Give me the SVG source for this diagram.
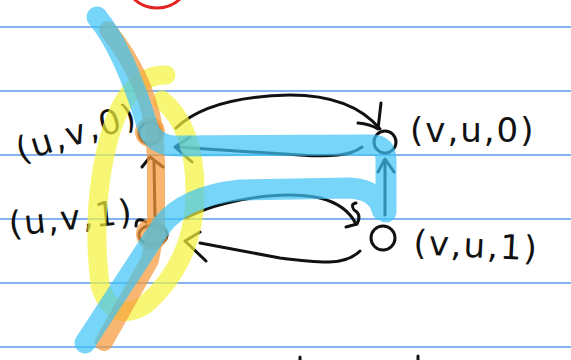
<svg xmlns="http://www.w3.org/2000/svg" width="571" height="360" viewBox="0 0 571 360">
<style>
.rule{stroke:#5a9be8;stroke-width:1.6}
.ink{fill:none;stroke:#111;stroke-width:3;stroke-linecap:round;stroke-linejoin:round}
.node{fill:none;stroke:#111;stroke-width:3}
.lbl{font-family:"DejaVu Sans",sans-serif;font-size:34px;fill:#111;letter-spacing:2px}
.hl{fill:none;stroke-linecap:round;stroke-linejoin:round}
</style>
<rect width="571" height="360" fill="#fff"/>
<g id="rules">
<line class="rule" x1="0" y1="27" x2="571" y2="27"/>
<line class="rule" x1="0" y1="91" x2="571" y2="91"/>
<line class="rule" x1="0" y1="155" x2="571" y2="155"/>
<line class="rule" x1="0" y1="219" x2="571" y2="219"/>
<line class="rule" x1="0" y1="283" x2="571" y2="283"/>
<line class="rule" x1="0" y1="347" x2="571" y2="347"/>
</g>
<circle cx="157" cy="-26" r="34" fill="none" stroke="#e52222" stroke-width="3"/>
<g id="connectors">
<path class="ink" d="M176,128 C200,105 240,96 290,95 C330,95 360,105 380,129"/>
<path class="ink" d="M358,123 Q370,124 378,129 L381,103"/>
<path class="ink" d="M362,147 C350,156 330,157 300,155 L176,147"/>
<path class="ink" d="M190,137 L175,147 L192,162"/>
<path class="ink" d="M385,215 L385,160"/>
<path class="ink" d="M378,172 L385,159 L394,172"/>
<path class="ink" d="M186,218 C220,200 280,190 320,198 C340,203 350,212 356,224"/>
<path class="ink" d="M346,227 L357,224 Q362,214 354,210 Q350,204 356,203"/>
<path class="ink" d="M360,251 C345,266 320,263 280,258 L200,243"/>
<path class="ink" d="M200,232 L185,241 L206,261"/>
<path class="ink" d="M155,216 L154,162"/>
<path class="ink" d="M142,167 L150,157 L163,167"/>
</g>
<g id="n_uv0"><circle class="node" cx="150" cy="133" r="11"/></g>
<g id="n_uv1"><ellipse class="node" cx="153" cy="235" rx="14" ry="10"/><path class="ink" d="M136,226 Q136,216 146,222"/></g>
<g id="n_vu0"><circle class="node" cx="385" cy="142" r="11"/></g>
<g id="n_vu1"><circle class="node" cx="383" cy="238" r="12"/></g>
<g id="labels">
<text class="lbl" transform="translate(20,162) rotate(-17)">(u,v,0)</text>
<text class="lbl" transform="translate(10,236) rotate(-6)" letter-spacing="0">(u,v,1)</text>
<text class="lbl" x="410" y="142">(v,u,0)</text>
<text class="lbl" transform="translate(413,254) rotate(3)">(v,u,1)</text>
</g>
<path class="ink" d="M300,357 L300,360 M418,356 L418,360"/>
<g id="highlights">
<path class="hl" stroke="#f5f33a" stroke-opacity="0.7" stroke-width="19" d="M166,75 Q130,74 112,128 Q90,200 100,285 Q112,325 145,305 Q194,262 195,195 Q196,128 162,100"/>
<path class="hl" stroke="#f59a3c" stroke-opacity="0.72" stroke-width="18" d="M108,30 C132,60 148,95 154,128 L156,160 L156,228 L150,260 L104,342"/>
<circle cx="150" cy="132" r="15" fill="#f59a3c" fill-opacity="0.72"/>
<circle cx="152" cy="234" r="16" fill="#f59a3c" fill-opacity="0.72"/>
<path class="hl" stroke="#3cc3f5" stroke-opacity="0.7" stroke-width="21" d="M97,17 C118,42 135,85 148,128 Q154,146 178,146 L372,145 Q386,145 386,160 L386,212 M382,210 Q378,190 350,188 L240,190 Q185,196 162,225 L85,343"/>
</g>
</svg>
